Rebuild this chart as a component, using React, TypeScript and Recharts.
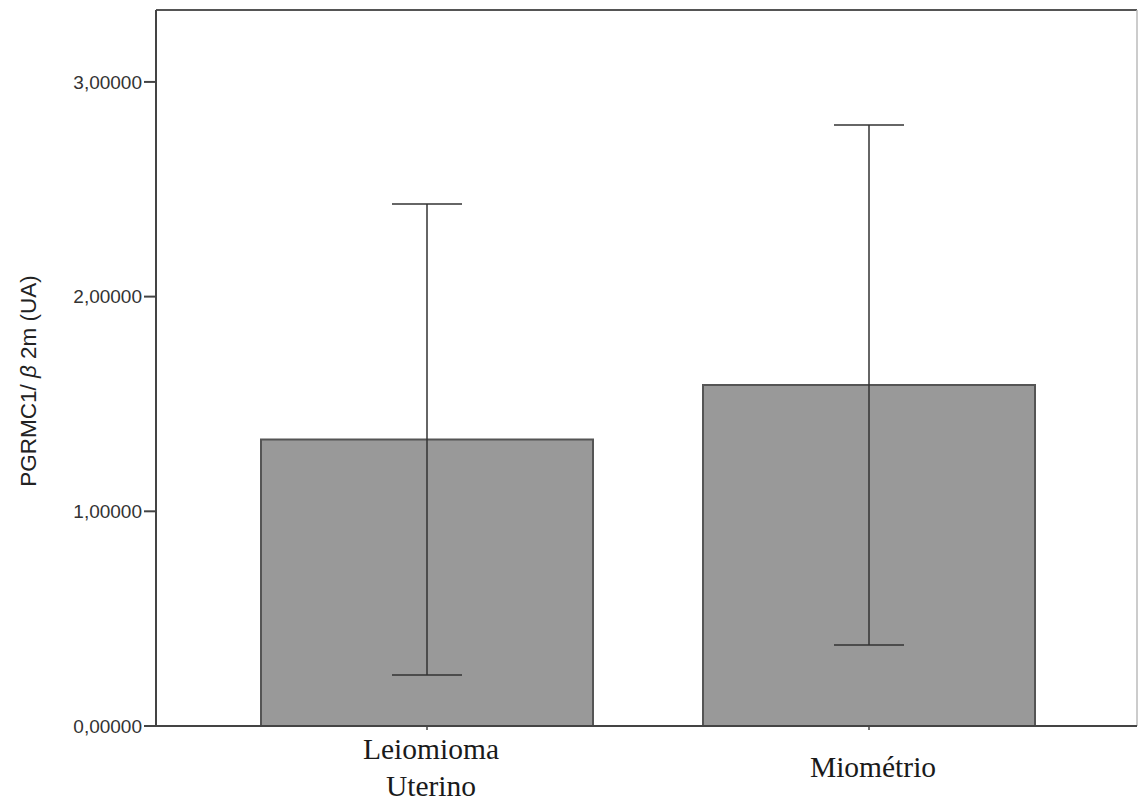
import { Bar, BarChart, ErrorBar, Label, ReferenceLine, XAxis, YAxis } from "recharts";

const categories = ["Leiomioma\nUterino", "Miométrio"];
const means = [1.334, 1.588];
const errors = [1.097, 1.211];
const yTicks = [0, 1, 2, 3];
const yMax = 3.335;

const data = categories.map((name, i) => ({ name, mean: means[i], err: errors[i] }));

const formatTick = (v: number) => v.toFixed(5).replace(".", ",");

const CategoryTick = ({ x, y, payload }: { x?: number; y?: number; payload?: { value: string } }) => {
  const lines = (payload?.value ?? "").split("\n");
  return (
    <g>
      {lines.map((line, i) => (
        <text
          key={line}
          x={(x ?? 0) + 4}
          y={(y ?? 0) + 47 + (i - (lines.length - 1) / 2) * 37}
          textAnchor="middle"
          fill="#1a1a1a"
          fontSize={29.5}
          fontFamily="'Liberation Serif', 'Times New Roman', serif"
        >
          {line}
        </text>
      ))}
    </g>
  );
};

const YTitle = () => (
  <text
    transform="translate(28,381) rotate(-90)"
    textAnchor="middle"
    dominantBaseline="central"
    fill="#222"
    fontSize={22.5}
    fontFamily="'Liberation Sans', Arial, sans-serif"
  >
    PGRMC1/ <tspan fontStyle="italic">β</tspan> 2m (UA)
  </text>
);

export default function App() {
  return (
    <div style={{ position: "absolute", left: 0, top: 0, background: "#fff" }}>
      <BarChart width={1138} height={803} data={data} margin={{ top: 10, right: 1, bottom: 0, left: 0 }}>
        <XAxis xAxisId="frame" type="number" domain={[0, 1]} hide />
        <XAxis
          dataKey="name"
          height={77}
          padding={{ left: 50, right: 47 }}
          tickSize={4}
          tickMargin={0}
          tickLine={{ stroke: "#444", strokeWidth: 1.5 }}
          axisLine={{ stroke: "#444", strokeWidth: 2 }}
          tick={<CategoryTick />}
          interval={0}
        />
        <YAxis
          width={156}
          domain={[0, yMax]}
          ticks={yTicks}
          tickFormatter={formatTick}
          tickSize={12}
          tickMargin={2}
          tickLine={{ stroke: "#444", strokeWidth: 2 }}
          axisLine={{ stroke: "#444", strokeWidth: 2 }}
          tick={{ fill: "#333", fontSize: 19, fontFamily: "'Liberation Sans', Arial, sans-serif" }}
          allowDataOverflow
        >
          <Label content={<YTitle />} />
        </YAxis>
        <ReferenceLine y={yMax} stroke="#555" strokeWidth={2} ifOverflow="extendDomain" />
        <ReferenceLine xAxisId="frame" x={1} stroke="#bbb" strokeWidth={1.5} ifOverflow="extendDomain" />
        <Bar dataKey="mean" barSize={332} fill="#999999" stroke="#555" strokeWidth={2} isAnimationActive={false}>
          <ErrorBar dataKey="err" width={35} stroke="#333" strokeWidth={1.5} direction="y" isAnimationActive={false} />
        </Bar>
      </BarChart>
    </div>
  );
}
